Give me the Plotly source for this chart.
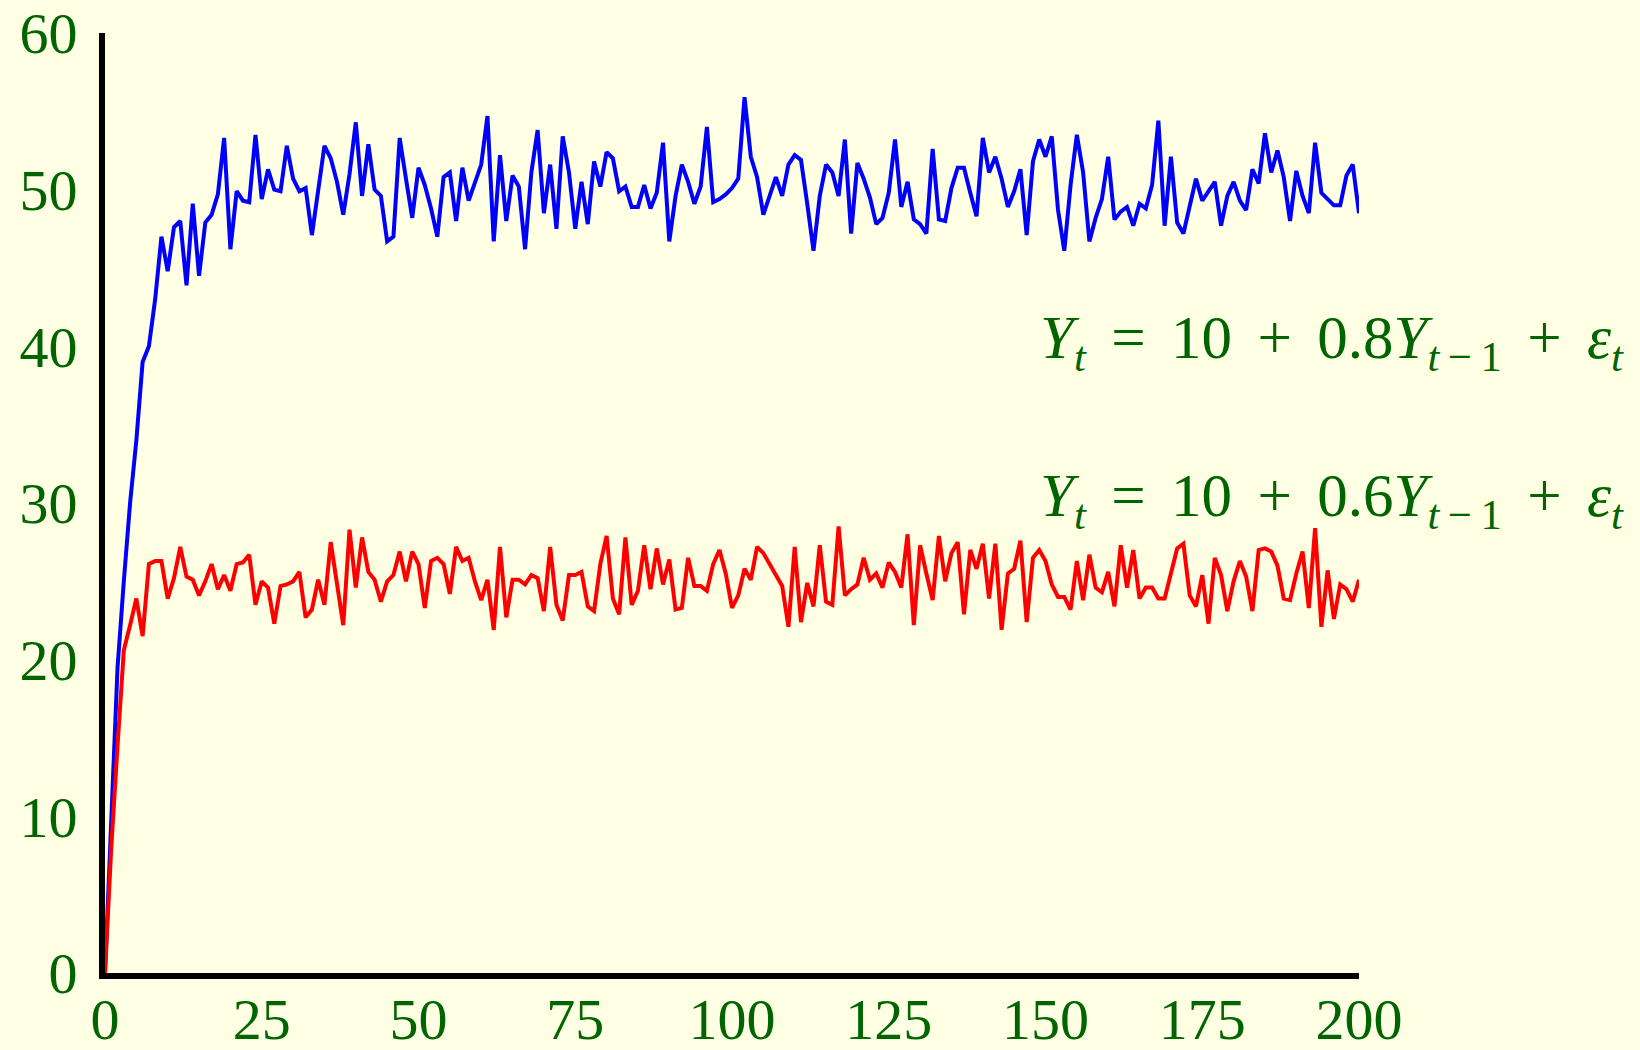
import plotly.graph_objects as go

t = list(range(201))

y08 = [0, 10, 19.5, 25, 30, 34, 39, 40, 43, 47.0, 44.8, 47.6, 48.0, 43.9, 49.1, 44.5, 47.9, 48.4, 49.7, 53.3,
       46.2, 49.9, 49.3, 49.2, 53.5, 49.4, 51.3, 50.0, 49.9, 52.8, 50.7, 49.9, 50.1, 47.1, 50.0, 52.8, 52.0, 50.5, 48.4, 51.0,
       54.3, 49.6, 52.9, 50.0, 49.6, 46.7, 47.0, 53.3, 50.7, 48.2, 51.4, 50.3, 48.8, 47.0, 50.8, 51.1, 48.0, 51.4, 49.3, 50.4,
       51.6, 54.7, 46.7, 52.2, 48.0, 50.9, 50.2, 46.2, 51.1, 53.8, 48.5, 51.6, 47.5, 53.4, 51.1, 47.5, 50.5, 47.8, 51.8, 50.2,
       52.4, 52.0, 49.9, 50.2, 48.9, 48.9, 50.3, 48.8, 49.8, 53.0, 46.7, 49.6, 51.6, 50.5, 49.1, 50.2, 54.0, 49.2, 49.4, 49.7,
       50.1, 50.7, 55.9, 52.1, 50.8, 48.4, 49.6, 50.8, 49.6, 51.6, 52.2, 51.9, 49.1, 46.1, 49.6, 51.6, 51.1, 49.6, 53.2, 47.2,
       51.7, 50.7, 49.5, 47.8, 48.2, 49.8, 53.2, 48.9, 50.5, 48.1, 47.8, 47.2, 52.6, 48.1, 48.0, 50.1, 51.4, 51.4, 49.8, 48.3,
       53.3, 51.1, 52.1, 50.7, 48.9, 49.9, 51.3, 47.1, 51.8, 53.2, 52.1, 53.4, 48.7, 46.1, 50.3, 53.5, 51.1, 46.7, 48.2, 49.4,
       52.1, 48.1, 48.6, 48.9, 47.7, 49.1, 48.8, 50.3, 54.4, 47.7, 52.1, 47.9, 47.2, 49.1, 50.7, 49.3, 49.9, 50.5, 47.7, 49.6,
       50.5, 49.3, 48.7, 51.3, 50.4, 53.6, 51.1, 52.5, 50.8, 48.0, 51.2, 49.6, 48.5, 53.0, 49.8, 49.4, 49.0, 49.0, 50.9, 51.6,
       48.5]

y06 = [0, 8, 14.5, 20.6, 22.2, 23.9, 21.5, 26.1, 26.3, 26.3, 23.9, 25.2, 27.2, 25.3, 25.1, 24.1, 25.0, 26.1, 24.5, 25.4,
       24.4, 26.1, 26.2, 26.7, 23.5, 25.0, 24.6, 22.3, 24.7, 24.8, 25.0, 25.6, 22.7, 23.2, 25.1, 23.5, 27.5, 24.9, 22.2, 28.3,
       24.6, 27.8, 25.6, 25.1, 23.7, 25.0, 25.4, 26.9, 25.0, 26.9, 26.1, 23.3, 26.3, 26.5, 26.1, 24.2, 27.2, 26.3, 26.5, 25.0,
       23.8, 25.1, 21.9, 27.2, 22.7, 25.1, 25.1, 24.8, 25.4, 25.2, 23.1, 27.2, 23.5, 22.5, 25.4, 25.4, 25.6, 23.4, 23.1, 26.1,
       27.9, 23.9, 22.9, 27.8, 23.5, 24.4, 27.3, 24.5, 27.1, 24.8, 26.4, 23.2, 23.3, 26.5, 24.7, 24.7, 24.4, 26.1, 27.0, 25.5,
       23.3, 24.1, 25.8, 25.1, 27.2, 26.8, 26.1, 25.4, 24.7, 22.1, 27.2, 22.4, 24.9, 23.4, 27.3, 23.7, 23.5, 28.5, 24.1, 24.5,
       24.8, 26.5, 25.1, 25.5, 24.6, 26.2, 25.6, 24.6, 28.0, 22.2, 27.3, 25.5, 23.8, 27.9, 25.0, 26.8, 27.5, 22.9, 27.0, 25.8,
       27.4, 23.9, 27.4, 21.9, 25.5, 25.8, 27.6, 22.4, 26.5, 27.0, 26.3, 24.8, 24.0, 24.0, 23.2, 26.3, 23.8, 26.7, 24.6, 24.3,
       25.6, 23.4, 27.3, 24.6, 27.0, 23.9, 24.6, 24.6, 23.9, 23.9, 25.5, 27.1, 27.4, 24.1, 23.4, 25.4, 22.3, 26.5, 25.4, 23.1,
       25.0, 26.3, 25.3, 23.1, 27.0, 27.1, 26.9, 26.0, 23.9, 23.8, 25.5, 26.9, 23.3, 28.4, 22.1, 25.7, 22.6, 24.8, 24.5, 23.7,
       25.1]

x_ticks = [0, 25, 50, 75, 100, 125, 150, 175, 200]
y_ticks = [0, 10, 20, 30, 40, 50, 60]
SP = " \u2006"
labels = [f"<i>Y</i><sub><i>t</i></sub>{SP}={SP}10{SP}+{SP}0.8<i>Y</i><sub><i>t</i>\u2009\u2212\u20091</sub>{SP}+{SP}<i>\u03b5</i><sub><i>t</i></sub>",
          f"<i>Y</i><sub><i>t</i></sub>{SP}={SP}10{SP}+{SP}0.6<i>Y</i><sub><i>t</i>\u2009\u2212\u20091</sub>{SP}+{SP}<i>\u03b5</i><sub><i>t</i></sub>"]
label_y = [40.3, 30.2]

BG = "#FFFFE4"
TXT = "#006400"
FONT = "Liberation Serif"

fig = go.Figure()
fig.add_trace(go.Scatter(x=t, y=y08, mode="lines", line=dict(color="#0000FF", width=4), showlegend=False))
fig.add_trace(go.Scatter(x=t, y=y06, mode="lines", line=dict(color="#FF0000", width=4), showlegend=False))

for txt, yy in zip(labels, label_y):
    fig.add_annotation(x=1.213, xref="paper", y=yy, yref="y", text=txt, showarrow=False,
                       xanchor="right", yanchor="middle",
                       font=dict(family=FONT, size=61, color=TXT))

fig.update_layout(
    width=1640, height=1050,
    paper_bgcolor=BG, plot_bgcolor=BG,
    margin=dict(l=105, r=281, t=33, b=77, autoexpand=False),
    font=dict(family=FONT, size=58, color=TXT),
)
fig.update_xaxes(range=[0, 200], tickvals=x_ticks, showgrid=False, zeroline=False,
                 showline=True, linecolor="black", linewidth=6, ticks="", automargin=False,
                 ticklabelstandoff=-10, tickfont=dict(family=FONT, size=58, color=TXT))
fig.update_yaxes(range=[0, 60], tickvals=y_ticks, showgrid=False, zeroline=False,
                 showline=True, linecolor="black", linewidth=6, ticks="", automargin=False,
                 ticklabelstandoff=10, tickfont=dict(family=FONT, size=58, color=TXT))

fig.write_html("out.html", config={"displayModeBar": False},
               post_script="document.body.style.margin='0';document.body.style.overflow='hidden';")
